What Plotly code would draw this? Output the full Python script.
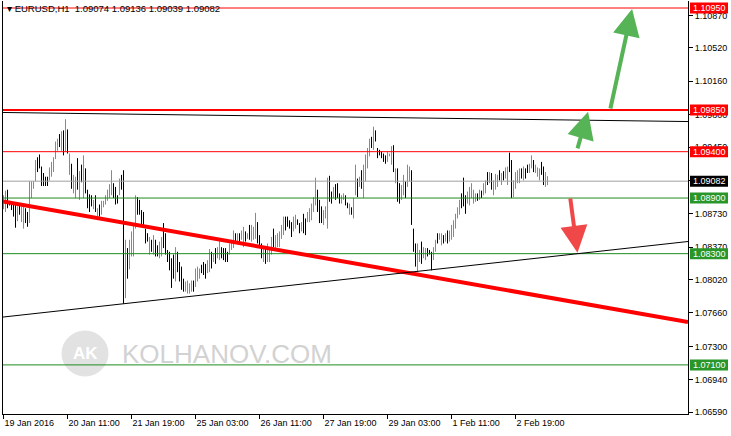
import plotly.graph_objects as go
import pandas as pd

# ---------------- data (EURUSD H1) ----------------
highs = [
    1.0893, 1.0898, 1.0899, 1.0887, 1.0886, 1.0885, 1.0883, 1.0881, 1.0883, 1.0881,
    1.0882, 1.0879, 1.0875, 1.0908, 1.0908, 1.0908, 1.0931, 1.0934, 1.0937, 1.0924,
    1.0917, 1.0913, 1.0913, 1.0923, 1.0929, 1.0934, 1.0951, 1.0954, 1.0959, 1.0962,
    1.0963, 1.0975, 1.0964, 1.0938, 1.0927, 1.0915, 1.0913, 1.0933, 1.0919, 1.0926,
    1.0936, 1.0922, 1.0899, 1.0894, 1.0893, 1.0888, 1.0893, 1.0879, 1.0883, 1.0887,
    1.0887, 1.0893, 1.0899, 1.0905, 1.0920, 1.0906, 1.0902, 1.0893, 1.0911, 1.0915,
    1.0920, 1.0845, 1.0836, 1.0845, 1.0854, 1.0861, 1.0893, 1.0891, 1.0888, 1.0877,
    1.0875, 1.0857, 1.0852, 1.0848, 1.0845, 1.0850, 1.0845, 1.0839, 1.0843, 1.0848,
    1.0863, 1.0852, 1.0834, 1.0832, 1.0825, 1.0829, 1.0837, 1.0832, 1.0821, 1.0816,
    1.0803, 1.0800, 1.0801, 1.0798, 1.0801, 1.0801, 1.0814, 1.0816, 1.0814, 1.0818,
    1.0821, 1.0819, 1.0823, 1.0835, 1.0832, 1.0830, 1.0836, 1.0837, 1.0846, 1.0837,
    1.0836, 1.0836, 1.0832, 1.0841, 1.0845, 1.0855, 1.0852, 1.0852, 1.0852, 1.0855,
    1.0859, 1.0854, 1.0852, 1.0861, 1.0861, 1.0859, 1.0874, 1.0864, 1.0850, 1.0841,
    1.0837, 1.0837, 1.0841, 1.0836, 1.0848, 1.0857, 1.0850, 1.0852, 1.0854, 1.0861,
    1.0870, 1.0870, 1.0870, 1.0866, 1.0864, 1.0870, 1.0872, 1.0867, 1.0863, 1.0864,
    1.0873, 1.0868, 1.0875, 1.0879, 1.0884, 1.0891, 1.0912, 1.0899, 1.0888, 1.0881,
    1.0877, 1.0881, 1.0912, 1.0914, 1.0897, 1.0902, 1.0905, 1.0906, 1.0895, 1.0893,
    1.0895, 1.0893, 1.0885, 1.0884, 1.0880, 1.0890, 1.0926, 1.0911, 1.0913, 1.0920,
    1.0926, 1.0937, 1.0944, 1.0954, 1.0956, 1.0967, 1.0963, 1.0944, 1.0942, 1.0940,
    1.0938, 1.0936, 1.0940, 1.0938, 1.0946, 1.0947, 1.0922, 1.0922, 1.0906, 1.0904,
    1.0915, 1.0908, 1.0926, 1.0924, 1.0920, 1.0857, 1.0841, 1.0841, 1.0834, 1.0843,
    1.0837, 1.0836, 1.0836, 1.0834, 1.0832, 1.0837, 1.0845, 1.0852, 1.0852, 1.0852,
    1.0850, 1.0852, 1.0855, 1.0855, 1.0861, 1.0866, 1.0873, 1.0880, 1.0888, 1.0895,
    1.0912, 1.0893, 1.0897, 1.0902, 1.0906, 1.0899, 1.0895, 1.0895, 1.0899, 1.0898,
    1.0906, 1.0909, 1.0918, 1.0918, 1.0917, 1.0909, 1.0916, 1.0915, 1.0920, 1.0917,
    1.0919, 1.0923, 1.0924, 1.0939, 1.0931, 1.0909, 1.0918, 1.0920, 1.0922, 1.0922,
    1.0924, 1.0922, 1.0926, 1.0927, 1.0936, 1.0931, 1.0926, 1.0923, 1.0922, 1.0929,
    1.0924, 1.0918, 1.09136,
]
lows = [
    1.0878, 1.0875, 1.0879, 1.0882, 1.0877, 1.0870, 1.0858, 1.0865, 1.0872, 1.0864,
    1.0857, 1.0863, 1.0859, 1.0863, 1.0890, 1.0900, 1.0908, 1.0918, 1.0922, 1.0903,
    1.0903, 1.0903, 1.0903, 1.0909, 1.0913, 1.0918, 1.0932, 1.0941, 1.0945, 1.0941,
    1.0936, 1.0940, 1.0938, 1.0915, 1.0900, 1.0895, 1.0890, 1.0899, 1.0888, 1.0907,
    1.0890, 1.0895, 1.0879, 1.0875, 1.0881, 1.0878, 1.0875, 1.0868, 1.0870, 1.0872,
    1.0880, 1.0883, 1.0887, 1.0890, 1.0893, 1.0890, 1.0883, 1.0884, 1.0893, 1.0899,
    1.0776, 1.0782, 1.0803, 1.0813, 1.0827, 1.0827, 1.0857, 1.0872, 1.0872, 1.0861,
    1.0861, 1.0841, 1.0843, 1.0829, 1.0832, 1.0829, 1.0827, 1.0827, 1.0825, 1.0827,
    1.0836, 1.0829, 1.0821, 1.0812, 1.0793, 1.0803, 1.0800, 1.0810, 1.0800, 1.0791,
    1.0789, 1.0789, 1.0787, 1.0787, 1.0789, 1.0789, 1.0794, 1.0800, 1.0803, 1.0809,
    1.0807, 1.0803, 1.0809, 1.0810, 1.0814, 1.0821, 1.0819, 1.0825, 1.0823, 1.0825,
    1.0823, 1.0821, 1.0821, 1.0829, 1.0834, 1.0836, 1.0843, 1.0843, 1.0841, 1.0845,
    1.0837, 1.0843, 1.0846, 1.0845, 1.0843, 1.0845, 1.0846, 1.0841, 1.0837, 1.0825,
    1.0821, 1.0819, 1.0821, 1.0821, 1.0829, 1.0837, 1.0836, 1.0837, 1.0837, 1.0846,
    1.0850, 1.0855, 1.0859, 1.0857, 1.0848, 1.0854, 1.0857, 1.0861, 1.0852, 1.0854,
    1.0852, 1.0850, 1.0864, 1.0864, 1.0866, 1.0875, 1.0882, 1.0875, 1.0863, 1.0863,
    1.0861, 1.0868, 1.0857, 1.0886, 1.0884, 1.0890, 1.0888, 1.0890, 1.0884, 1.0884,
    1.0888, 1.0882, 1.0879, 1.0872, 1.0872, 1.0868, 1.0893, 1.0891, 1.0902, 1.0900,
    1.0890, 1.0908, 1.0922, 1.0935, 1.0944, 1.0942, 1.0951, 1.0933, 1.0936, 1.0933,
    1.0929, 1.0927, 1.0929, 1.0935, 1.0926, 1.0918, 1.0906, 1.0886, 1.0884, 1.0888,
    1.0893, 1.0890, 1.0902, 1.0908, 1.0861, 1.0832, 1.0816, 1.0810, 1.0821, 1.0819,
    1.0825, 1.0823, 1.0827, 1.0829, 1.0812, 1.0823, 1.0832, 1.0841, 1.0845, 1.0839,
    1.0841, 1.0843, 1.0841, 1.0843, 1.0845, 1.0848, 1.0857, 1.0868, 1.0872, 1.0879,
    1.0881, 1.0873, 1.0884, 1.0882, 1.0890, 1.0884, 1.0886, 1.0887, 1.0888, 1.0890,
    1.0893, 1.0895, 1.0904, 1.0906, 1.0899, 1.0893, 1.0899, 1.0902, 1.0909, 1.0904,
    1.0909, 1.0911, 1.0904, 1.0918, 1.0890, 1.0891, 1.0900, 1.0906, 1.0906, 1.0911,
    1.0909, 1.0911, 1.0917, 1.0917, 1.0922, 1.0918, 1.0917, 1.0913, 1.0909, 1.0915,
    1.0904, 1.0902, 1.09039,
]
# 1 = bullish (green) bar, 0 = bearish (black) bar
bar_up = (
    "1100000101" "1001111000" "0001111101" "0101011010" "1000010101"
    "1111100010" "0101111000" "0001010011" "0000001000" "0111101110"
    "0011010110" "0001110101" "1010111000" "1011101111" "1000011001"
    "0011111000" "1110010001" "1001011010" "1111010000" "0011101001"
    "1011000110" "1100011011" "0101111110" "0011111010" "1101011101"
    "0110011110" "1001101110" "011"
)
last_ohlc = [1.09074, 1.09136, 1.09039, 1.09082]

tick_times = ["2016-01-19 03:00", "2016-01-20 11:00", "2016-01-21 19:00",
              "2016-01-25 03:00", "2016-01-26 11:00", "2016-01-27 19:00",
              "2016-01-29 03:00", "2016-02-01 11:00", "2016-02-02 19:00"]
tick_labels = ["19 Jan 2016", "20 Jan 11:00", "21 Jan 19:00", "25 Jan 03:00",
               "26 Jan 11:00", "27 Jan 19:00", "29 Jan 03:00", "1 Feb 11:00",
               "2 Feb 19:00"]
price_ticks = [1.10870, 1.10520, 1.10160, 1.09800, 1.09450, 1.09090, 1.08730,
               1.08370, 1.08020, 1.07660, 1.07300, 1.06940, 1.06590]

levels = [1.10950, 1.09850, 1.09400, 1.09082, 1.08900, 1.08300, 1.07100]
level_colors = ["#FF0000", "#FF0000", "#FF0000", "#A0A0A0", "#1E8C1E", "#1E8C1E", "#1E8C1E"]
level_widths = [1, 2, 1, 1, 1, 1, 1]
label_colors = ["#FF0000", "#FF0000", "#FF0000", "#000000", "#289628", "#289628", "#289628"]

# trend lines: (bar index, price) anchors
trend_lines = [
    dict(p=[(-0.25, 1.08862), (342.25, 1.07562)], color="#FF0000", width=4),
    dict(p=[(-0.25, 1.09823), (342.25, 1.09725)], color="#000000", width=1),
    dict(p=[(-0.25, 1.07616), (342.25, 1.08431)], color="#000000", width=1),
]
# arrows: tail (bar, price) -> tip (bar, price)
arrows = [
    dict(tail=(303.3, 1.0985), tip=(314.3, 1.1094), color="#56B456"),
    dict(tail=(286.8, 1.0942), tip=(292.3, 1.0983), color="#56B456"),
    dict(tail=(283.3, 1.0891), tip=(287.0, 1.0831), color="#F04848"),
]

# ---------------- build ----------------
n = len(highs)
assert len(lows) == n and len(bar_up) == n, (len(highs), len(lows), len(bar_up))
rng = pd.date_range("2016-01-19 03:00", periods=600, freq="h")
times = rng[rng.dayofweek < 5][:n]
pos = {t: i for i, t in enumerate(times)}
tickvals = [pos[pd.Timestamp(t)] for t in tick_times]
idx = list(range(n))

ups = [c == "1" for c in bar_up]
opens = [lo if u else hi for hi, lo, u in zip(highs, lows, ups)]
closes = [hi if u else lo for hi, lo, u in zip(highs, lows, ups)]
opens[-1], closes[-1] = last_ohlc[0], last_ohlc[3]

FONT = "Liberation Sans, Arial, sans-serif"
XR = [-0.25, 342.25]
YR = [1.065703, 1.110255]

fig = go.Figure()

fig.add_trace(go.Ohlc(
    x=idx, open=opens, high=highs, low=lows, close=closes,
    increasing=dict(line=dict(color="#3CBE3C", width=1)),
    decreasing=dict(line=dict(color="#000000", width=1)),
    tickwidth=0, hoverinfo="skip", showlegend=False,
))

shapes = []
for lv, c, w in zip(levels, level_colors, level_widths):
    shapes.append(dict(type="line", xref="x", yref="y", x0=XR[0], x1=XR[1],
                       y0=lv, y1=lv, line=dict(color=c, width=w), layer="above"))
for tl in trend_lines:
    (x0, y0), (x1, y1) = tl["p"]
    shapes.append(dict(type="line", xref="x", yref="y", x0=x0, y0=y0, x1=x1, y1=y1,
                       line=dict(color=tl["color"], width=tl["width"]), layer="above"))
# price labels on the axis
for lv, c in zip(levels, label_colors):
    shapes.append(dict(type="rect", xref="paper", xsizemode="pixel", xanchor=1,
                       x0=2, x1=40, yref="y", ysizemode="pixel", yanchor=lv,
                       y0=-5.5, y1=5.5, fillcolor=c, line=dict(width=0), layer="above"))
# watermark logo circle
shapes.append(dict(type="circle", xref="paper", yref="paper",
                   x0=(62 - 3) / 685, x1=(108 - 3) / 685,
                   y0=(414 - 376) / 413, y1=(414 - 331) / 413,
                   fillcolor="#E2E2E2", line=dict(color="#E2E2E2", width=1), layer="below"))

annotations = []
for lv in levels:
    annotations.append(dict(xref="paper", yref="y", x=1, y=lv, xanchor="left", yanchor="middle",
                            xshift=3, text=f"{lv:.5f}", showarrow=False,
                            font=dict(family=FONT, size=9, color="#FFFFFF")))
for a in arrows:
    annotations.append(dict(xref="x", yref="y", axref="x", ayref="y",
                            x=a["tip"][0], y=a["tip"][1], ax=a["tail"][0], ay=a["tail"][1],
                            text="", showarrow=True, arrowhead=2, arrowsize=1.35,
                            arrowwidth=4, arrowcolor=a["color"], standoff=0, startstandoff=0))
annotations.append(dict(xref="paper", yref="paper", x=(5 - 3) / 685, y=(414 - 9) / 413,
                        xanchor="left", yanchor="middle", showarrow=False,
                        text="▾ EURUSD,H1  1.09074 1.09136 1.09039 1.09082",
                        font=dict(family=FONT, size=9.5, color="#000000")))
annotations.append(dict(xref="paper", yref="paper", x=(85 - 3) / 685, y=(414 - 353) / 413,
                        xanchor="center", yanchor="middle", showarrow=False, text="<b>AK</b>",
                        font=dict(family=FONT, size=17, color="#FFFFFF")))
annotations.append(dict(xref="paper", yref="paper", x=(120 - 3) / 685, y=(414 - 354) / 413,
                        xanchor="left", yanchor="middle", showarrow=False, text="KOLHANOV.COM",
                        font=dict(family=FONT, size=26, color="#D2D2D2")))

fig.update_layout(
    width=731, height=436,
    margin=dict(l=3, r=43, t=1, b=22),
    plot_bgcolor="#FFFFFF", paper_bgcolor="#FFFFFF",
    showlegend=False,
    shapes=shapes, annotations=annotations,
    font=dict(family=FONT, size=9, color="#000000"),
    xaxis=dict(range=XR, rangeslider=dict(visible=False), showgrid=False, zeroline=False,
               showline=True, linecolor="#000000", linewidth=1,
               tickmode="array", tickvals=tickvals, ticktext=tick_labels,
               ticks="outside", ticklen=4, tickcolor="#000000",
               ticklabelposition="outside right",
               tickfont=dict(family=FONT, size=9, color="#000000"), fixedrange=True),
    yaxis=dict(range=YR, side="right", showgrid=False, zeroline=False,
               showline=True, linecolor="#000000", linewidth=1, mirror=True,
               tickmode="array", tickvals=price_ticks,
               ticktext=[f"{v:.5f}" for v in price_ticks],
               ticks="outside", ticklen=4, tickcolor="#000000",
               tickfont=dict(family=FONT, size=9, color="#000000"), fixedrange=True),
)

fig.write_html("out.html", config={"displayModeBar": False},
               post_script="document.body.style.margin='0px';document.body.style.overflow='hidden';")
